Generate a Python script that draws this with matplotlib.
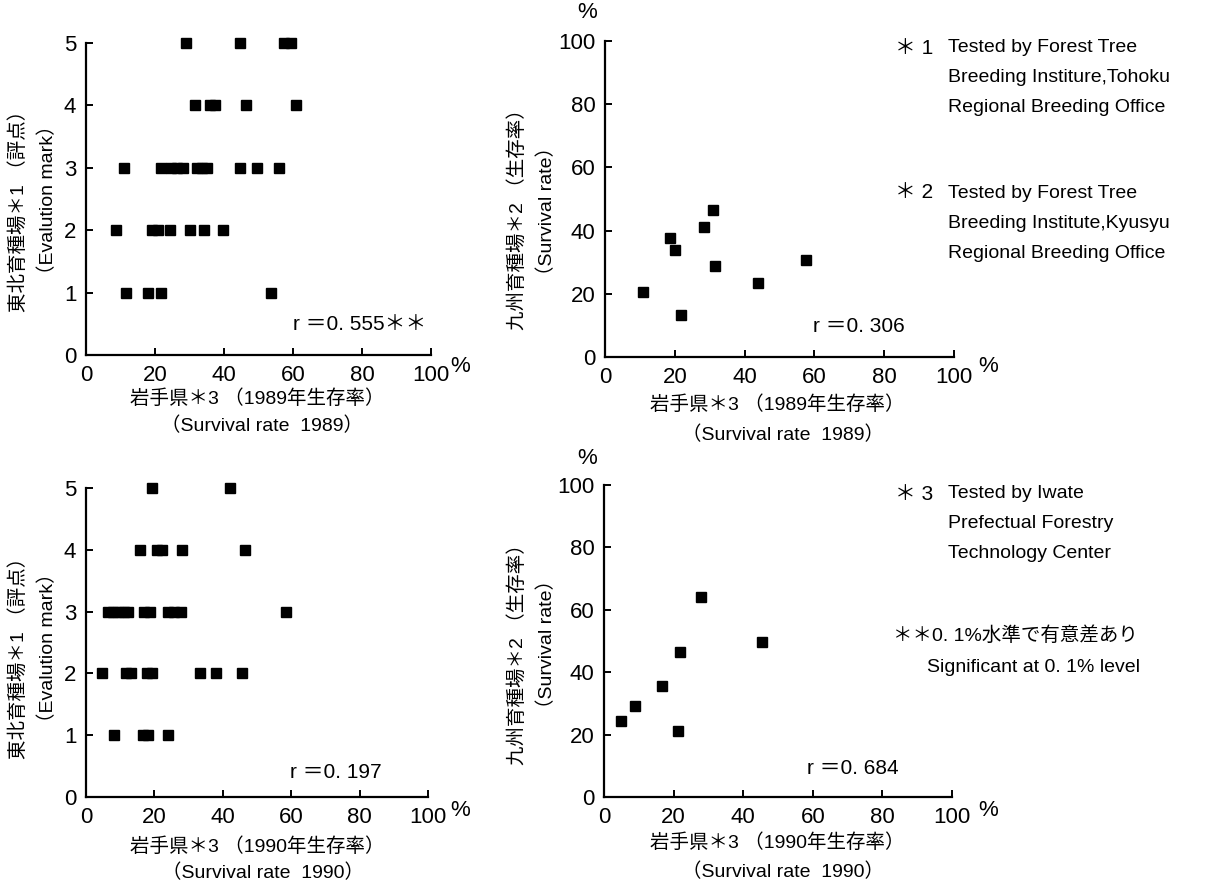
import matplotlib
matplotlib.use('Agg')
import matplotlib.pyplot as plt

W, H = 1209, 885

# top-left: Tohoku evaluation mark vs Iwate survival 1989
tl_x = [29.0, 44.6, 57.5, 59.5,
        31.6, 36.0, 37.4, 46.3, 60.8,
        11.1, 21.7, 24.5, 26.3, 28.0, 32.3, 33.6, 35.0, 44.6, 49.5, 55.8,
        8.6, 19.0, 20.8, 24.3, 30.1, 34.3, 39.6,
        11.6, 18.1, 21.7, 53.6]
tl_y = [5, 5, 5, 5,
        4, 4, 4, 4, 4,
        3, 3, 3, 3, 3, 3, 3, 3, 3, 3, 3,
        2, 2, 2, 2, 2, 2, 2,
        1, 1, 1, 1]

# bottom-left: Tohoku evaluation mark vs Iwate survival 1990
bl_x = [19.2, 42.0,
        15.8, 20.9, 22.3, 28.0, 46.5,
        6.3, 8.0, 9.5, 11.0, 12.4, 17.1, 18.7, 23.9, 25.6, 27.7, 58.5,
        4.6, 11.7, 13.1, 17.9, 19.2, 33.2, 38.0, 45.6,
        8.3, 16.8, 18.2, 23.9]
bl_y = [5, 5,
        4, 4, 4, 4, 4,
        3, 3, 3, 3, 3, 3, 3, 3, 3, 3, 3,
        2, 2, 2, 2, 2, 2, 2, 2,
        1, 1, 1, 1]

# top-right: Kyusyu survival vs Iwate survival 1989
tr_x = [11.0, 18.6, 20.1, 21.7, 28.4, 31.0, 31.5, 43.7, 57.6]
tr_y = [20.6, 37.8, 33.8, 13.2, 41.1, 46.4, 28.7, 23.5, 30.6]

# bottom-right: Kyusyu survival vs Iwate survival 1990
br_x = [4.8, 8.9, 16.6, 21.3, 21.8, 28.0, 45.5]
br_y = [24.2, 29.3, 35.6, 21.3, 46.5, 64.2, 49.6]

r_texts = ['r ＝0. 555＊＊', 'r ＝0. 197', 'r ＝0. 306', 'r ＝0. 684']

NUM = ['Liberation Sans', 'Noto Sans CJK JP']
TXT = ['Liberation Sans', 'Noto Sans CJK JP']

plt.rcParams['font.family'] = NUM


def px(x, y):
    return x / W, 1 - y / H


def make_axes(left, right, top, bottom):
    ax = fig.add_axes([left / W, 1 - bottom / H, (right - left) / W, (bottom - top) / H])
    for s in ['top', 'right']:
        ax.spines[s].set_visible(False)
    for s in ['left', 'bottom']:
        ax.spines[s].set_linewidth(1.6)
    ax.tick_params(direction='in', length=5, width=1.4, labelsize=16, pad=7)
    ax.set_xlim(0, 100)
    ax.set_xticks([0, 20, 40, 60, 80, 100])
    return ax


fig = plt.figure(figsize=(W / 100, H / 100), dpi=100)

ax1 = make_axes(86, 431, 43, 355)
ax1.set_ylim(0, 5)
ax1.set_yticks([0, 1, 2, 3, 4, 5])
ax1.plot(tl_x, tl_y, 's', color='black', markersize=7.5, clip_on=False)

ax2 = make_axes(86, 428, 488, 797)
ax2.set_ylim(0, 5)
ax2.set_yticks([0, 1, 2, 3, 4, 5])
ax2.plot(bl_x, bl_y, 's', color='black', markersize=7.5, clip_on=False)

ax3 = make_axes(605, 954, 41, 357)
ax3.set_ylim(0, 100)
ax3.set_yticks([0, 20, 40, 60, 80, 100])
ax3.plot(tr_x, tr_y, 's', color='black', markersize=7.5, clip_on=False)

ax4 = make_axes(604, 952, 485, 797)
ax4.set_ylim(0, 100)
ax4.set_yticks([0, 20, 40, 60, 80, 100])
ax4.plot(br_x, br_y, 's', color='black', markersize=7.5, clip_on=False)

# axis labels
ylab_jp = ['東北育種場＊1 （評点）', '東北育種場＊1 （評点）',
           '九州育種場＊2 （生存率）', '九州育種場＊2 （生存率）']
ylab_en = ['（Evalution mark）', '（Evalution mark）', '（Survival rate）', '（Survival rate）']
ylab_pos = [(18, 206, 48, 200), (18, 653, 48, 648), (517, 215, 547, 211), (517, 650, 547, 644)]
for jp, en, (x1, y1, x2, y2) in zip(ylab_jp, ylab_en, ylab_pos):
    fig.text(*px(x1, y1), jp, rotation=90, ha='center', va='center', fontsize=14, family=NUM)
    fig.text(*px(x2, y2), en, rotation=90, ha='center', va='center', fontsize=14, family=TXT)

xlab_jp = ['岩手県＊3 （1989年生存率）', '岩手県＊3 （1990年生存率）',
           '岩手県＊3 （1989年生存率）', '岩手県＊3 （1990年生存率）']
xlab_en = ['（Survival rate  1989）', '（Survival rate  1990）',
           '（Survival rate  1989）', '（Survival rate  1990）']
xlab_pos = [(257, 399, 262, 426), (257, 847, 263, 873), (777, 405, 783, 435), (777, 843, 783, 872)]
for jp, en, (x1, y1, x2, y2) in zip(xlab_jp, xlab_en, xlab_pos):
    fig.text(*px(x1, y1), jp, ha='center', va='center', fontsize=14, family=NUM)
    fig.text(*px(x2, y2), en, ha='center', va='center', fontsize=14, family=TXT)

# percent signs
for x, y in [(460, 367), (460, 811), (988, 367), (988, 811), (587, 12), (587, 458)]:
    fig.text(*px(x, y), '%', ha='center', va='center', fontsize=16, family=NUM)

# correlation texts
r_pos = [(293, 325), (290, 772), (813, 327), (807, 768)]
for t, (x, y) in zip(r_texts, r_pos):
    fig.text(*px(x, y), t, ha='left', va='center', fontsize=15, family=NUM)

# notes
fig.text(*px(895, 48), '＊ 1', ha='left', va='center', fontsize=15, family=NUM)
fig.text(*px(948, 48), 'Tested by Forest Tree', ha='left', va='center', fontsize=14, family=TXT)
fig.text(*px(948, 78), 'Breeding Institure,Tohoku', ha='left', va='center', fontsize=14, family=TXT)
fig.text(*px(948, 108), 'Regional Breeding Office', ha='left', va='center', fontsize=14, family=TXT)

fig.text(*px(895, 193), '＊ 2', ha='left', va='center', fontsize=15, family=NUM)
fig.text(*px(948, 193), 'Tested by Forest Tree', ha='left', va='center', fontsize=14, family=TXT)
fig.text(*px(948, 223), 'Breeding Institute,Kyusyu', ha='left', va='center', fontsize=14, family=TXT)
fig.text(*px(948, 253), 'Regional Breeding Office', ha='left', va='center', fontsize=14, family=TXT)

fig.text(*px(895, 494), '＊ 3', ha='left', va='center', fontsize=15, family=NUM)
fig.text(*px(948, 494), 'Tested by Iwate', ha='left', va='center', fontsize=14, family=TXT)
fig.text(*px(948, 523), 'Prefectual Forestry', ha='left', va='center', fontsize=14, family=TXT)
fig.text(*px(948, 553), 'Technology Center', ha='left', va='center', fontsize=14, family=TXT)

fig.text(*px(893, 636), '＊＊0. 1%水準で有意差あり', ha='left', va='center', fontsize=14, family=NUM)
fig.text(*px(927, 667), 'Significant at 0. 1% level', ha='left', va='center', fontsize=14, family=TXT)

fig.savefig('out.png', dpi=100)
